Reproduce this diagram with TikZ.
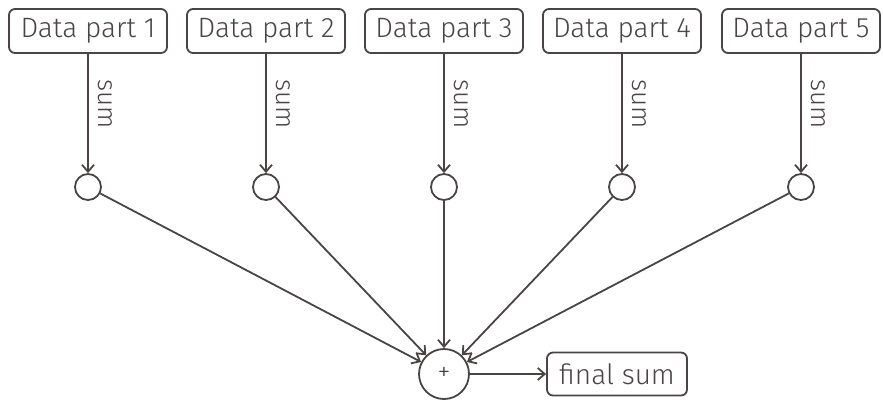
\documentclass[tikz,border=0pt]{standalone}
\usepackage{fontspec}
\setmainfont{Fira Sans}[UprightFont={* Light}]
\usetikzlibrary{arrows.meta}
\definecolor{ink}{HTML}{4A4444}
\begin{document}
\begin{tikzpicture}[x=1pt,y=-1pt,
  databox/.style={draw=ink,line width=1.8pt,rounded corners=6pt,minimum width=158pt,minimum height=44pt,inner sep=0pt,text=ink,font=\fontsize{28}{30}\selectfont},
  small/.style={draw=ink,line width=1.8pt,circle,minimum size=26pt,inner sep=0pt},
  big/.style={draw=ink,line width=1.8pt,circle,minimum size=50pt,inner sep=0pt,text=ink,font=\fontsize{26}{28}\selectfont},
  conn/.style={draw=ink,line width=1.8pt,-{Straight Barb[length=7pt,width=12pt,line width=1.8pt]}},
  lbl/.style={text=ink,font=\fontsize{26}{28}\selectfont,inner sep=0pt,sloped,above=9pt,pos=0.42}]
\useasboundingbox (0,0) rectangle (883,399);
\foreach \i/\x in {1/88,2/266,3/444,4/622,5/801}{
  \node[databox] (d\i) at (\x,31) {Data part \i};
  \node[small] (s\i) at (\x,187) {};
  \draw[conn] (d\i) -- node[lbl] {sum} (s\i);
}
\node[big] (p) at (444,374) {+};
\node[databox,minimum width=140pt,minimum height=43pt] (f) at (617,374) {final sum};
\foreach \i in {1,...,5}{\draw[conn] (s\i) -- (p);}
\draw[conn] (p) -- (f);
\end{tikzpicture}
\end{document}
